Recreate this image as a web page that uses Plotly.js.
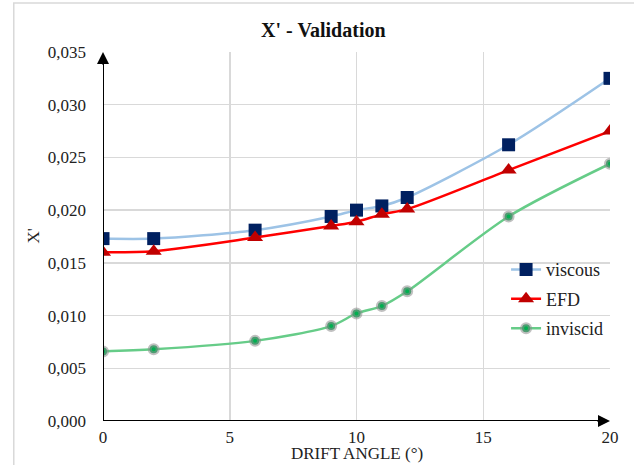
<!DOCTYPE html>
<html>
<head>
<meta charset="utf-8">
<script src="https://cdn.plot.ly/plotly-3.0.1.min.js"></script>
<style>
  html, body { margin: 0; padding: 0; background: #fff; }
  #chart { width: 634px; height: 465px; }
</style>
</head>
<body>
<div id="chart"></div>
<script>
// Drift angle (degrees)
const driftAngle = [0, 2, 6, 9, 10, 11, 12, 16, 20];

// X' coefficient per method
const viscous  = [0.0173, 0.0173, 0.0181, 0.0194, 0.0200, 0.0204, 0.0212, 0.0262, 0.0325];
const efd      = [0.0160, 0.0161, 0.0174, 0.0185, 0.0189, 0.0196, 0.0201, 0.0238, 0.0275];
const inviscid = [0.0066, 0.0068, 0.0076, 0.0090, 0.0102, 0.0109, 0.0123, 0.0194, 0.0244];

const seriesNames = ['viscous', 'EFD', 'inviscid'];
const xTicks = [0, 5, 10, 15, 20];
const yTicks = [0, 0.005, 0.010, 0.015, 0.020, 0.025, 0.030, 0.035];

const serif = "Liberation Serif";

const traces = [
  {
    x: driftAngle, y: viscous, name: seriesNames[0], type: 'scatter', mode: 'lines+markers',
    legendgroup: 'a',
    line: { color: '#9DC3E6', width: 2.5, shape: 'spline', smoothing: 0.8 },
    marker: { symbol: 'square', size: 13, color: '#002060', line: { width: 0 } }
  },
  {
    x: driftAngle, y: efd, name: seriesNames[1], type: 'scatter', mode: 'lines+markers',
    legendgroup: 'b',
    line: { color: '#FF0000', width: 2.5, shape: 'spline', smoothing: 0.8 },
    marker: { symbol: 'triangle-up', size: 14, color: '#C00000', line: { width: 0 } }
  },
  {
    x: driftAngle, y: inviscid, name: seriesNames[2], type: 'scatter', mode: 'lines+markers',
    legendgroup: 'c',
    line: { color: '#66CC88', width: 2.5, shape: 'spline', smoothing: 0.8 },
    marker: { symbol: 'circle', size: 8, color: '#00B050',
              line: { width: 4, color: 'rgba(140,140,140,0.55)' } }
  }
];

const layout = {
  width: 634, height: 465,
  separators: ', ',
  paper_bgcolor: '#fff', plot_bgcolor: '#fff',
  margin: { l: 103, r: 24, t: 52, b: 44 },
  font: { family: serif, size: 16, color: '#222' },
  title: {
    text: "<b>X' - Validation</b>",
    font: { family: serif, size: 20, color: '#111' },
    x: 0.51, xanchor: 'center', y: 0.935, yanchor: 'middle'
  },
  xaxis: {
    range: [0, 20], tickvals: xTicks, ticktext: xTicks.map(String),
    showgrid: true, gridcolor: '#D9D9D9', gridwidth: 1.5,
    zeroline: false, showline: false, ticks: '', ticklabelstandoff: 4,
    tickfont: { family: serif, size: 17, color: '#222' }
  },
  yaxis: {
    range: [0, 0.035], tickvals: yTicks, tickformat: '.3f',
    showgrid: true, gridcolor: '#D9D9D9', gridwidth: 1.5,
    zeroline: false, showline: false, ticks: '', ticklabelstandoff: 16,
    tickfont: { family: serif, size: 17, color: '#222' }
  },
  showlegend: true,
  legend: {
    x: 0.795, y: 0.46, xanchor: 'left', yanchor: 'top',
    bgcolor: 'rgba(0,0,0,0)', traceorder: 'grouped', tracegroupgap: 3,
    font: { family: serif, size: 18, color: '#222' }
  },
  shapes: [
    // outer chart frame
    { type: 'rect', xref: 'paper', yref: 'paper', x0: -0.176, x1: 1.1, y0: -0.2, y1: 1.133,
      line: { color: '#D9D9D9', width: 1.5 }, fillcolor: 'rgba(0,0,0,0)', layer: 'below' },
    // axis lines
    { type: 'line', xref: 'x', yref: 'paper', x0: 0, x1: 0, y0: 0, y1: 0.99,
      line: { color: '#000', width: 2 } },
    { type: 'line', xref: 'paper', yref: 'y', x0: 0, x1: 0.985, y0: 0, y1: 0,
      line: { color: '#000', width: 2 } }
  ],
  annotations: [
    { x: 0, y: 0.035, xref: 'x', yref: 'y', ax: 0, ay: 14, text: '', showarrow: true,
      arrowhead: 2, arrowsize: 1.2, arrowwidth: 2, arrowcolor: '#000' },
    { x: 20, y: 0, xref: 'x', yref: 'y', ax: -14, ay: 0, text: '', showarrow: true,
      arrowhead: 2, arrowsize: 1.2, arrowwidth: 2, arrowcolor: '#000' },
    { text: 'DRIFT ANGLE (°)', xref: 'paper', yref: 'paper', x: 0.5, y: -0.088,
      xanchor: 'center', yanchor: 'middle', showarrow: false,
      font: { family: serif, size: 17, color: '#222' } },
    { text: "X'", xref: 'paper', yref: 'paper', x: -0.138, y: 0.5, xanchor: 'center', yanchor: 'middle',
      textangle: -90, showarrow: false, font: { family: serif, size: 17, color: '#222' } }
  ]
};

Plotly.newPlot('chart', traces, layout, { displayModeBar: false, staticPlot: true });
</script>
</body>
</html>
